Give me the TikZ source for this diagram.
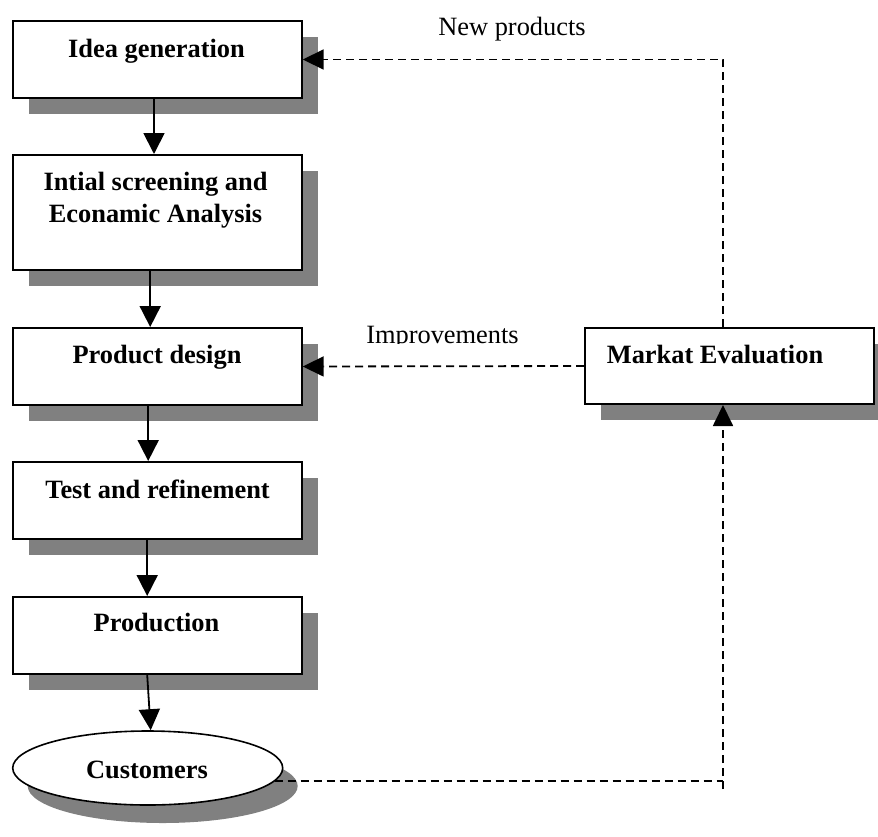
\documentclass[tikz,border=0pt]{standalone}
\usepackage{fontspec}
\setmainfont{Liberation Serif}
\usetikzlibrary{arrows.meta,shapes.geometric,shadows}
\newcommand\figfs{\fontsize{26.4}{32}\selectfont}
\begin{document}
\begin{tikzpicture}[x=1pt,y=-1pt,
  stagebox/.style={draw=black, line width=2pt, fill=white, rectangle, inner sep=0pt, minimum width=289pt,
    drop shadow={shadow xshift=16pt, shadow yshift=-16pt, opacity=1, fill=gray}},
  custshape/.style={draw=black, line width=1.6pt, fill=white, ellipse, inner sep=0pt, minimum width=270pt, minimum height=74pt,
    drop shadow={shadow xshift=15pt, shadow yshift=-18pt, opacity=1, fill=gray}},
  boldlbl/.style={font=\figfs\bfseries, inner sep=0pt, anchor=base},
  plainlbl/.style={font=\figfs, inner sep=0pt, anchor=base},
  solidarrow/.style={line width=1.8pt, -{Triangle[width=21pt,length=21pt]}},
  dashline/.style={line width=1.8pt, dash pattern=on 8pt off 5pt},
  dasharrow/.style={dashline, -{Triangle[width=20pt,length=21pt]}}]
\path[use as bounding box] (0,0) rectangle (878,836);
\clip (0,0) rectangle (878,836);

% boxes
\node[stagebox, minimum height=77pt] (idea) at (157.2,59.5) {};
\node[stagebox, minimum height=115pt] (init) at (157.2,212.5) {};
\node[stagebox, minimum height=77pt] (prod) at (157.2,366.5) {};
\node[stagebox, minimum height=77pt] (test) at (157.2,500.5) {};
\node[stagebox, minimum height=77pt] (prodn) at (157.2,635.5) {};
\node[custshape] (cust) at (147.7,768) {};
\node[stagebox, minimum height=76pt] (mk) at (729.5,366) {};

% box texts
\node[boldlbl] (idea-t) at (156.5,57) {Idea generation};
\node[boldlbl] (init-t1) at (155.5,190) {Intial screening and};
\node[boldlbl] (init-t2) at (155.5,222) {Econamic Analysis};
\node[boldlbl] (prod-t) at (157,363.3) {Product design};
\node[boldlbl] (test-t) at (157.5,498) {Test and refinement};
\node[boldlbl] (prodn-t) at (156.5,631.7) {Production};
\node[boldlbl] (cust-t) at (147,778) {Customers};
\node[boldlbl] (mk-t) at (715,363) {Markat Evaluation};

% solid flow arrows
\draw[solidarrow] ([xshift=-3.2pt]idea.south) -- ([xshift=-3.2pt]init.north);
\draw[solidarrow] ([xshift=-7pt]init.south) -- ([xshift=-7pt]prod.north);
\draw[solidarrow] ([xshift=-9pt]prod.south) -- ([xshift=-9pt]test.north);
\draw[solidarrow] ([xshift=-10pt]test.south) -- ([xshift=-10pt]prodn.north);
\draw[solidarrow] ([xshift=-10pt]prodn.south) -- ([xshift=3pt]cust.north);

% feedback dashed lines
\coordinate (vb) at (723,789);
\draw[dasharrow] ([xshift=-6.5pt]mk.north) |- (idea.east);
\draw[dasharrow] (mk.west) -- (prod.east);
\draw[dashline] (cust.-6.5) -- (cust.-6.5 -| vb);
\draw[dasharrow] (vb) -- (vb |- mk.south);

% labels
\node[plainlbl] (np) at (512,35) {New products};
\begin{scope}
\clip (300,300) rectangle (584,343.5);
\node[plainlbl] (imp) at (442.5,343) {Improvements};
\end{scope}
\end{tikzpicture}
\end{document}
